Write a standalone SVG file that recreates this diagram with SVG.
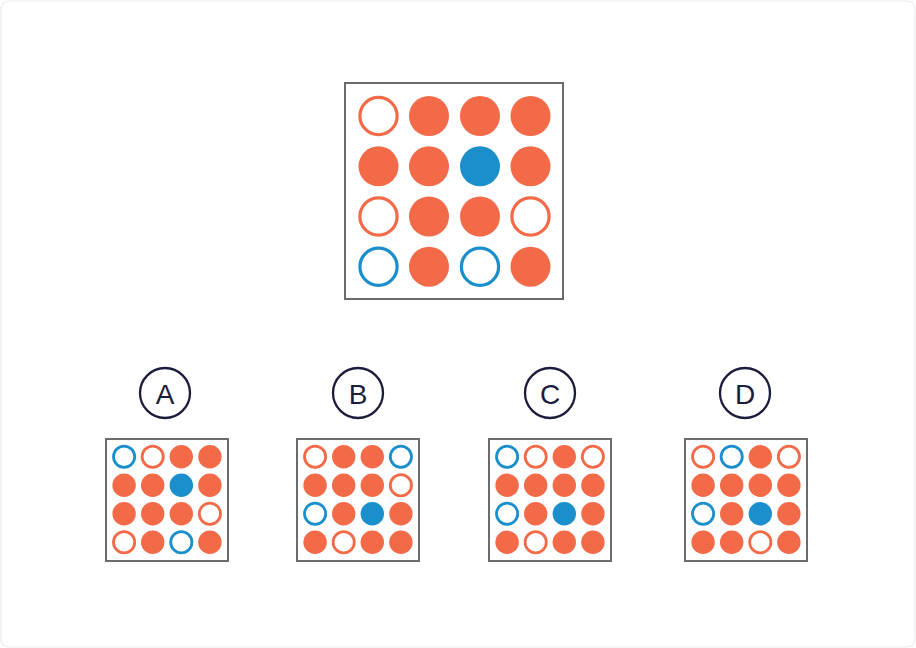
<svg xmlns="http://www.w3.org/2000/svg" width="916" height="648" viewBox="0 0 916 648">
<style>
.frame{fill:#fff;stroke:#ececec;stroke-width:1.2}
.box{fill:#fff;stroke:#6b6b6b;stroke-width:2}
.f{fill:#F26A48}
.b{fill:#1A8FCC}
.ro{fill:none;stroke:#F26A48}
.rb{fill:none;stroke:#1A8FCC}
.big .ro,.big .rb{stroke-width:3.2}
.sm .ro,.sm .rb{stroke-width:2.8}
.lc{fill:#fff;stroke:#1c1c3c;stroke-width:2.3}
.lt{font-family:"Liberation Sans",Arial,sans-serif;font-size:28px;fill:#1c1c3c;text-anchor:middle;dominant-baseline:central}
</style>
<rect class="frame" x="1" y="1" width="914" height="646" rx="8"/>
<g id="main" class="big">
<rect class="box" x="345" y="83" width="218" height="216"/>
<circle class="ro" cx="378.5" cy="116" r="18.6"/>
<circle class="f" cx="429" cy="116" r="20"/>
<circle class="f" cx="480" cy="116" r="20"/>
<circle class="f" cx="530.5" cy="116" r="20"/>
<circle class="f" cx="378.5" cy="166.3" r="20"/>
<circle class="f" cx="429" cy="166.3" r="20"/>
<circle class="b" cx="480" cy="166.3" r="20"/>
<circle class="f" cx="530.5" cy="166.3" r="20"/>
<circle class="ro" cx="378.5" cy="216.5" r="18.6"/>
<circle class="f" cx="429" cy="216.5" r="20"/>
<circle class="f" cx="480" cy="216.5" r="20"/>
<circle class="ro" cx="530.5" cy="216.5" r="18.6"/>
<circle class="rb" cx="378.5" cy="266.7" r="18.6"/>
<circle class="f" cx="429" cy="266.7" r="20"/>
<circle class="rb" cx="480" cy="266.7" r="18.6"/>
<circle class="f" cx="530.5" cy="266.7" r="20"/>
</g>
<g id="optA" class="sm">
<circle class="lc" cx="165" cy="393" r="25"/>
<text class="lt" x="165" y="394">A</text>
<rect class="box" x="106" y="439" width="122" height="122"/>
<g transform="translate(106,439)">
<circle class="rb" cx="18.1" cy="17.8" r="10.6"/>
<circle class="ro" cx="46.7" cy="17.8" r="10.6"/>
<circle class="f" cx="75.3" cy="17.8" r="11.7"/>
<circle class="f" cx="103.9" cy="17.8" r="11.7"/>
<circle class="f" cx="18.1" cy="46.3" r="11.7"/>
<circle class="f" cx="46.7" cy="46.3" r="11.7"/>
<circle class="b" cx="75.3" cy="46.3" r="11.7"/>
<circle class="f" cx="103.9" cy="46.3" r="11.7"/>
<circle class="f" cx="18.1" cy="74.8" r="11.7"/>
<circle class="f" cx="46.7" cy="74.8" r="11.7"/>
<circle class="f" cx="75.3" cy="74.8" r="11.7"/>
<circle class="ro" cx="103.9" cy="74.8" r="10.6"/>
<circle class="ro" cx="18.1" cy="103.3" r="10.6"/>
<circle class="f" cx="46.7" cy="103.3" r="11.7"/>
<circle class="rb" cx="75.3" cy="103.3" r="10.6"/>
<circle class="f" cx="103.9" cy="103.3" r="11.7"/>
</g>
</g>
<g id="optB" class="sm">
<circle class="lc" cx="358" cy="393" r="25"/>
<text class="lt" x="358" y="394">B</text>
<rect class="box" x="297" y="439" width="122" height="122"/>
<g transform="translate(297,439)">
<circle class="ro" cx="18.1" cy="17.8" r="10.6"/>
<circle class="f" cx="46.7" cy="17.8" r="11.7"/>
<circle class="f" cx="75.3" cy="17.8" r="11.7"/>
<circle class="rb" cx="103.9" cy="17.8" r="10.6"/>
<circle class="f" cx="18.1" cy="46.3" r="11.7"/>
<circle class="f" cx="46.7" cy="46.3" r="11.7"/>
<circle class="f" cx="75.3" cy="46.3" r="11.7"/>
<circle class="ro" cx="103.9" cy="46.3" r="10.6"/>
<circle class="rb" cx="18.1" cy="74.8" r="10.6"/>
<circle class="f" cx="46.7" cy="74.8" r="11.7"/>
<circle class="b" cx="75.3" cy="74.8" r="11.7"/>
<circle class="f" cx="103.9" cy="74.8" r="11.7"/>
<circle class="f" cx="18.1" cy="103.3" r="11.7"/>
<circle class="ro" cx="46.7" cy="103.3" r="10.6"/>
<circle class="f" cx="75.3" cy="103.3" r="11.7"/>
<circle class="f" cx="103.9" cy="103.3" r="11.7"/>
</g>
</g>
<g id="optC" class="sm">
<circle class="lc" cx="550" cy="393" r="25"/>
<text class="lt" x="550" y="394">C</text>
<rect class="box" x="489" y="439" width="122" height="122"/>
<g transform="translate(489,439)">
<circle class="rb" cx="18.1" cy="17.8" r="10.6"/>
<circle class="ro" cx="46.7" cy="17.8" r="10.6"/>
<circle class="f" cx="75.3" cy="17.8" r="11.7"/>
<circle class="ro" cx="103.9" cy="17.8" r="10.6"/>
<circle class="f" cx="18.1" cy="46.3" r="11.7"/>
<circle class="f" cx="46.7" cy="46.3" r="11.7"/>
<circle class="f" cx="75.3" cy="46.3" r="11.7"/>
<circle class="f" cx="103.9" cy="46.3" r="11.7"/>
<circle class="rb" cx="18.1" cy="74.8" r="10.6"/>
<circle class="f" cx="46.7" cy="74.8" r="11.7"/>
<circle class="b" cx="75.3" cy="74.8" r="11.7"/>
<circle class="f" cx="103.9" cy="74.8" r="11.7"/>
<circle class="f" cx="18.1" cy="103.3" r="11.7"/>
<circle class="ro" cx="46.7" cy="103.3" r="10.6"/>
<circle class="f" cx="75.3" cy="103.3" r="11.7"/>
<circle class="f" cx="103.9" cy="103.3" r="11.7"/>
</g>
</g>
<g id="optD" class="sm">
<circle class="lc" cx="745" cy="393" r="25"/>
<text class="lt" x="745" y="394">D</text>
<rect class="box" x="685" y="439" width="122" height="122"/>
<g transform="translate(685,439)">
<circle class="ro" cx="18.1" cy="17.8" r="10.6"/>
<circle class="rb" cx="46.7" cy="17.8" r="10.6"/>
<circle class="f" cx="75.3" cy="17.8" r="11.7"/>
<circle class="ro" cx="103.9" cy="17.8" r="10.6"/>
<circle class="f" cx="18.1" cy="46.3" r="11.7"/>
<circle class="f" cx="46.7" cy="46.3" r="11.7"/>
<circle class="f" cx="75.3" cy="46.3" r="11.7"/>
<circle class="f" cx="103.9" cy="46.3" r="11.7"/>
<circle class="rb" cx="18.1" cy="74.8" r="10.6"/>
<circle class="f" cx="46.7" cy="74.8" r="11.7"/>
<circle class="b" cx="75.3" cy="74.8" r="11.7"/>
<circle class="f" cx="103.9" cy="74.8" r="11.7"/>
<circle class="f" cx="18.1" cy="103.3" r="11.7"/>
<circle class="f" cx="46.7" cy="103.3" r="11.7"/>
<circle class="ro" cx="75.3" cy="103.3" r="10.6"/>
<circle class="f" cx="103.9" cy="103.3" r="11.7"/>
</g>
</g>
<g id="connectors"></g>
</svg>
